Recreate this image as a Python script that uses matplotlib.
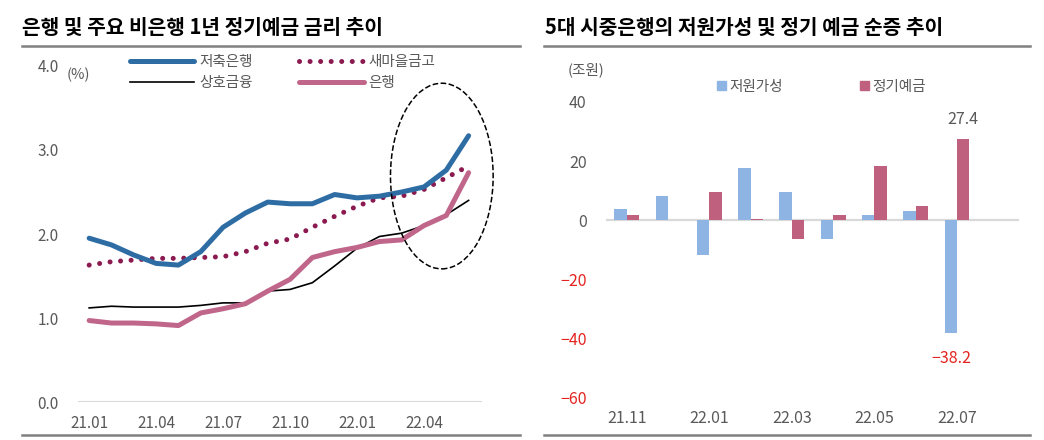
import numpy as np
import matplotlib.pyplot as plt
from matplotlib.patches import Ellipse, Patch
from matplotlib.lines import Line2D

plt.rcParams['font.family'] = ['Noto Sans CJK KR', 'DejaVu Sans']

# left chart: 1y time deposit rates (%)
months_l = ['21.01', '21.02', '21.03', '21.04', '21.05', '21.06', '21.07', '21.08', '21.09',
            '21.10', '21.11', '21.12', '22.01', '22.02', '22.03', '22.04', '22.05', '22.06']
savings_bank = [1.95, 1.87, 1.75, 1.65, 1.63, 1.79, 2.08, 2.25, 2.38, 2.36, 2.36, 2.47,
                2.43, 2.45, 2.50, 2.56, 2.76, 3.17]
saemaul = [1.63, 1.67, 1.69, 1.71, 1.71, 1.72, 1.73, 1.79, 1.89, 1.94, 2.08, 2.21,
           2.33, 2.43, 2.45, 2.53, 2.67, 2.81]
mutual = [1.12, 1.14, 1.13, 1.13, 1.13, 1.15, 1.18, 1.18, 1.32, 1.34, 1.42, 1.62,
          1.83, 1.97, 2.01, 2.10, 2.23, 2.40]
banks = [0.97, 0.94, 0.94, 0.93, 0.91, 1.06, 1.11, 1.17, 1.32, 1.46, 1.72, 1.79,
         1.84, 1.91, 1.93, 2.10, 2.22, 2.73]

# right chart: net increase (trillion won)
months_r = ['21.11', '21.12', '22.01', '22.02', '22.03', '22.04', '22.05', '22.06', '22.07']
low_cost = [3.7, 8.3, -11.8, 17.7, 9.7, -6.4, 1.9, 3.1, -38.2]
time_dep = [1.7, 0.0, 9.6, 0.5, -6.2, 1.9, 18.3, 4.8, 27.4]

GRAY = '#595959'
RED = '#E3231F'

fig = plt.figure(figsize=(10.44, 4.4), dpi=100)
W, H = 1044, 440

# ---------- left ----------
ax = fig.add_axes([78 / W, 1 - 402 / H, 404 / W, 336 / H])
x = np.arange(len(months_l))
ax.plot(x, savings_bank, color='#2E6DA4', lw=3.6, solid_capstyle='round', label='저축은행', zorder=4)
ax.plot(x, mutual, color='black', lw=1.2, label='상호금융', zorder=3)
ax.plot(x, saemaul, color='#8B1A50', lw=3.6, linestyle=(0, (0.01, 2.1)),
        dash_capstyle='round', label='새마을금고', zorder=3)
ax.plot(x, banks, color='#C0668A', lw=3.6, solid_capstyle='round', label='은행', zorder=3)
ax.axhline(0, color='#D9D9D9', lw=1.5, zorder=1)
ax.add_patch(Ellipse((15.8, 2.69), 4.6, 2.21, fill=False, ls='--', lw=1.1,
                     color='black', clip_on=False, zorder=5))
ax.set_xlim(-0.5, 17.6)
ax.set_ylim(0, 4)
ax.set_xticks(x[::3])
ax.set_xticklabels(months_l[::3])
ax.set_yticks([0, 1, 2, 3, 4])
ax.set_yticklabels(['0.0', '1.0', '2.0', '3.0', '4.0'])
ax.tick_params(length=0, labelsize=11, colors=GRAY)
ax.tick_params(axis='y', pad=14)
ax.tick_params(axis='x', pad=9)
for s in ax.spines.values():
    s.set_visible(False)
fig.text(67 / W, 1 - 75 / H, '(%)', fontsize=10.5, color=GRAY, va='center')
fig.legend(handles=ax.get_legend_handles_labels()[0], ncol=2, frameon=False,
           loc='upper left', bbox_to_anchor=(130 / W, 1 - 55 / H), borderaxespad=0,
           borderpad=0, handlelength=4.4, handletextpad=0.35, columnspacing=3.2,
           labelspacing=0.5, fontsize=10.5, labelcolor=GRAY)

# ---------- right ----------
ax2 = fig.add_axes([606 / W, 1 - 397.7 / H, 413 / W, 295.7 / H])
xr = np.arange(len(months_r))
bw = 0.3
ax2.bar(xr - bw / 2, low_cost, bw, color='#8DB4E2', label='저원가성', zorder=3)
ax2.bar(xr + bw / 2, time_dep, bw, color='#C0607F', label='정기예금', zorder=3)
ax2.axhline(0, color='#D9D9D9', lw=1.6, zorder=2)
ax2.set_xlim(-0.5, 9.5)
ax2.set_ylim(-60, 40)
ax2.set_xticks(xr[::2])
ax2.set_xticklabels(months_r[::2])
ax2.set_yticks([-60, -40, -20, 0, 20, 40])
ax2.set_yticklabels(['−60', '−40', '−20', '0', '20', '40'])
ax2.tick_params(length=0, labelsize=11.5, colors=GRAY)
ax2.tick_params(axis='y', pad=14)
ax2.tick_params(axis='x', pad=9)
for t, v in zip(ax2.get_yticklabels(), [-60, -40, -20, 0, 20, 40]):
    t.set_color(RED if v < 0 else GRAY)
for s in ax2.spines.values():
    s.set_visible(False)
ax2.annotate(f'{time_dep[-1]:.1f}', (xr[-1] + bw / 2, time_dep[-1]), xytext=(0, 8),
             textcoords='offset points', ha='center', va='bottom', fontsize=11.5, color=GRAY)
ax2.annotate(f'−{abs(low_cost[-1]):.1f}', (xr[-1] - bw / 2, low_cost[-1]), xytext=(0, -12),
             textcoords='offset points', ha='center', va='top', fontsize=11.5, color=RED)
fig.text(568 / W, 1 - 70 / H, '(조원)', fontsize=10.5, color=GRAY, va='center')
ax2.legend(handles=[Patch(color='#8DB4E2', label='저원가성'), Patch(color='#C0607F', label='정기예금')],
           ncol=2, frameon=False, loc='upper left', bbox_to_anchor=(717 / W, 1 - 80 / H),
           bbox_transform=fig.transFigure, borderaxespad=0, borderpad=0,
           handlelength=0.6, handleheight=0.6, handletextpad=0.25, columnspacing=5.3,
           fontsize=10.5, labelcolor=GRAY)

# ---------- titles and rules ----------
fig.text(22 / W, 1 - 27 / H, '은행 및 주요 비은행 1년 정기예금 금리 추이', fontsize=14.6,
         fontweight='black', va='center', color='black')
fig.text(545 / W, 1 - 27 / H, '5대 시중은행의 저원가성 및 정기 예금 순증 추이', fontsize=14.6,
         fontweight='black', va='center', color='black')
for x0, x1 in [(22, 520), (544, 1030)]:
    for yy in (46.5, 435):
        fig.add_artist(Line2D([x0 / W, x1 / W], [1 - yy / H, 1 - yy / H],
                              color='#808080', lw=1.8))

fig.savefig('out.png', dpi=100)
